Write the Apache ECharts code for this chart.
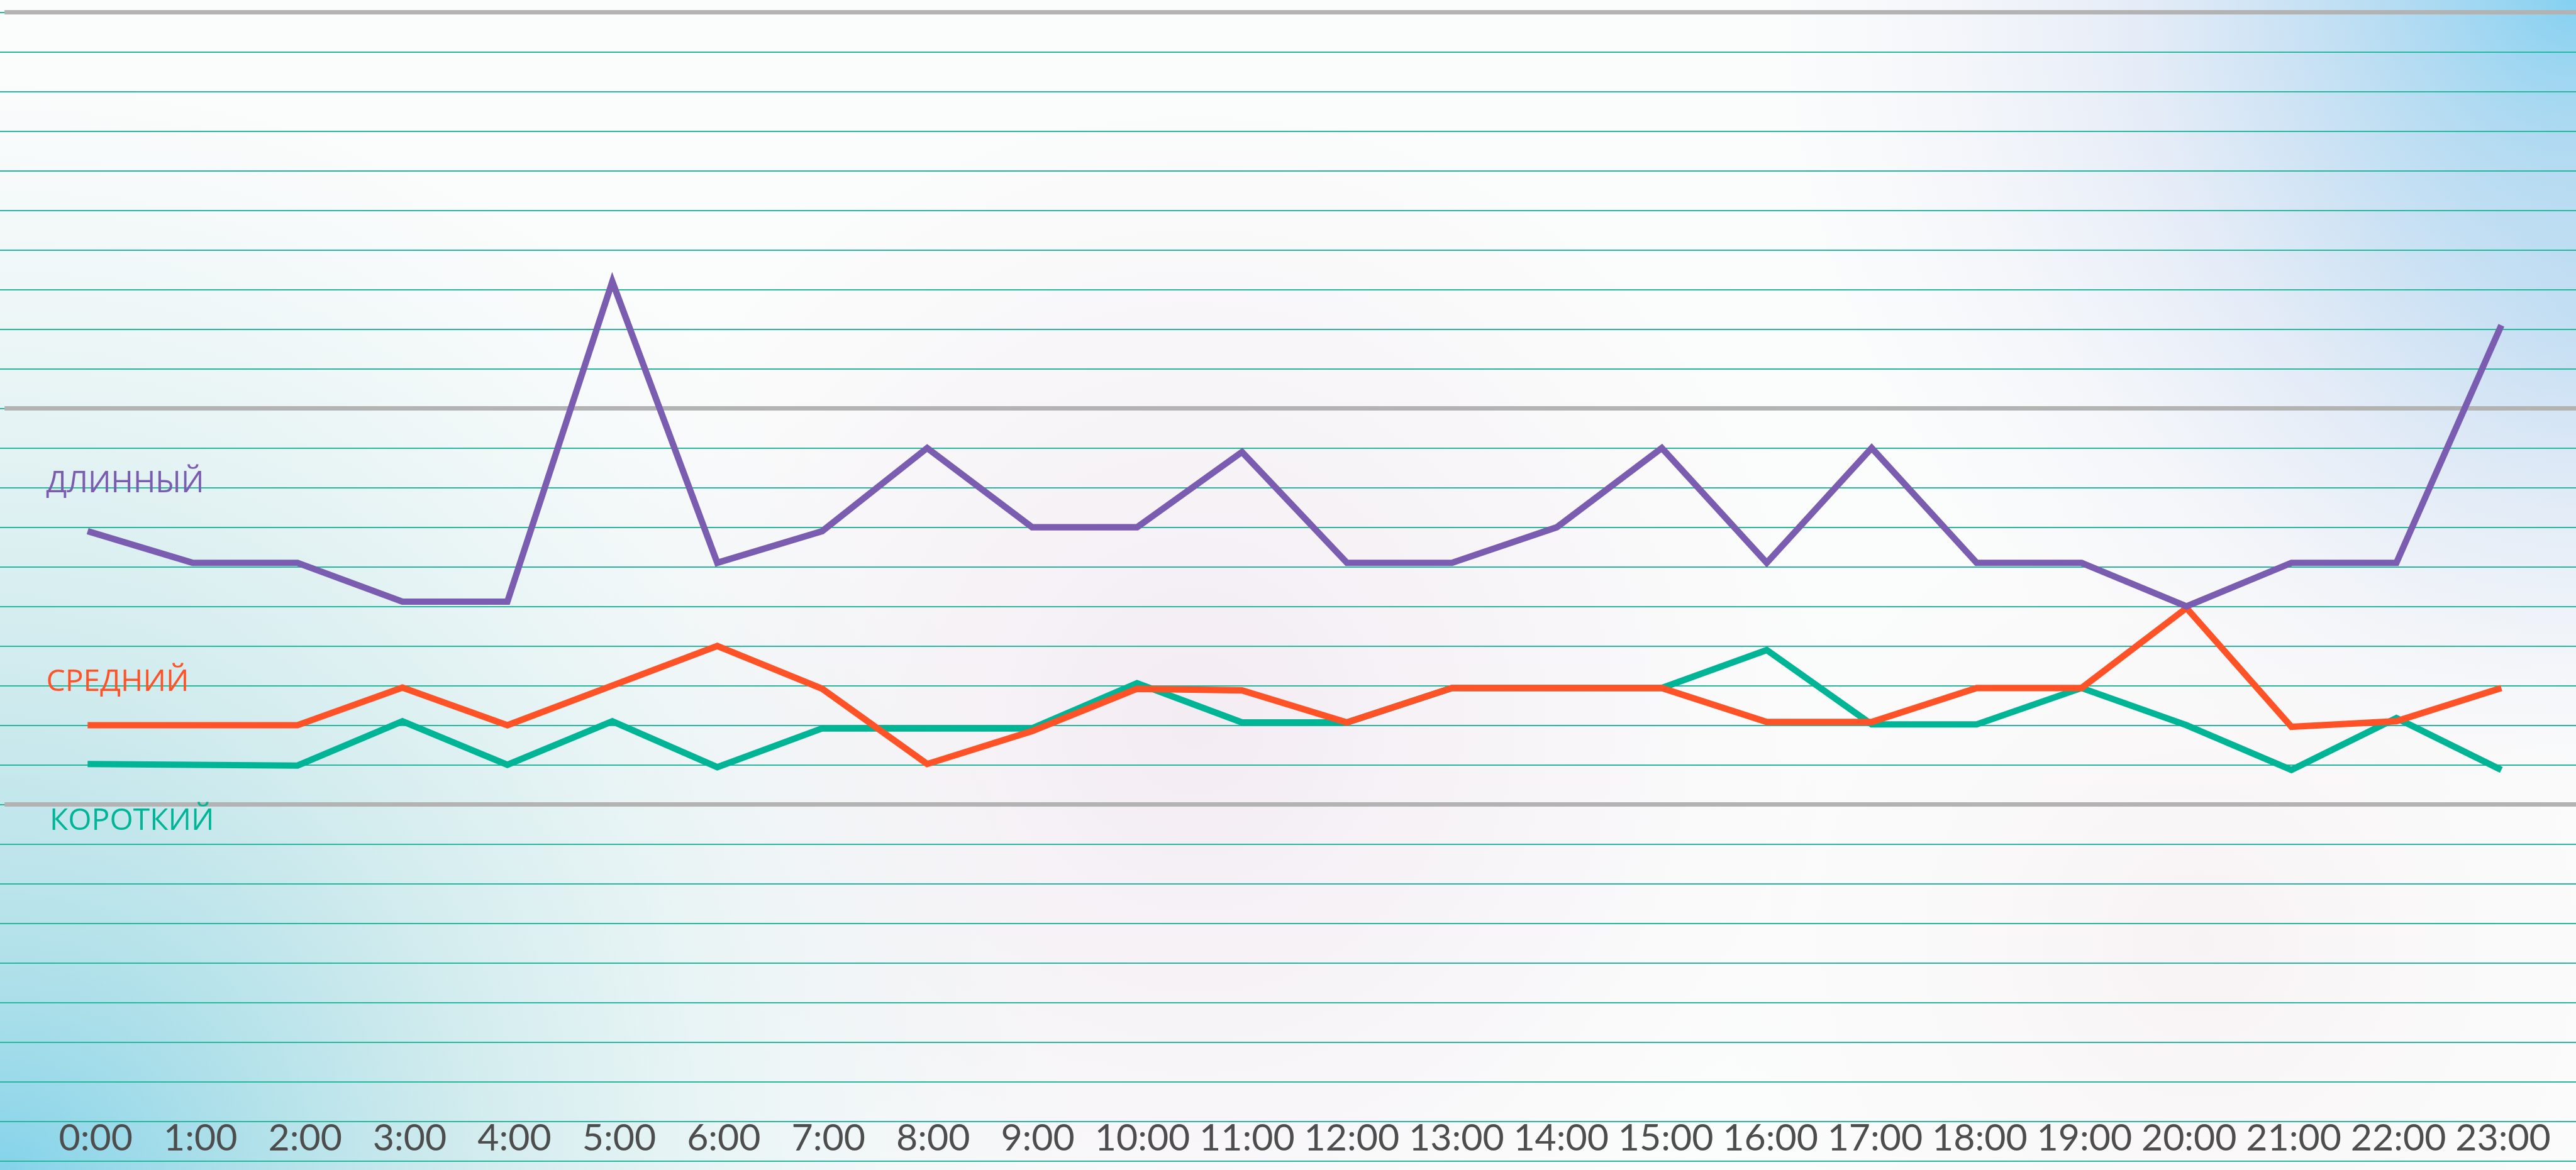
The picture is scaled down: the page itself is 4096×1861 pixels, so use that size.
<!DOCTYPE html>
<html>
<head>
<meta charset="utf-8">
<style>
  html, body { margin: 0; padding: 0; width: 100%; height: 100%; overflow: hidden; background: #fbfcfc; }
  #chart { width: 4096px; height: 1861px; }
</style>
<script src="https://cdn.jsdelivr.net/npm/echarts@6/dist/echarts.min.js"></script>
</head>
<body>
<div id="chart"></div>
<script>
// Hour categories along the bottom
const hours = ['0:00', '1:00', '2:00', '3:00', '4:00', '5:00', '6:00', '7:00', '8:00', '9:00',
  '10:00', '11:00', '12:00', '13:00', '14:00', '15:00', '16:00', '17:00', '18:00', '19:00',
  '20:00', '21:00', '22:00', '23:00'];

// Series values, one per hour
const longValues = [15.9, 15.1, 15.1, 14.12, 14.12, 22.2, 15.1, 15.9, 18.0, 16.0, 16.0, 17.9,
  15.1, 15.1, 16.0, 18.0, 15.1, 18.0, 15.1, 15.1, 14.0, 15.1, 15.1, 21.1];
const midValues = [11.0, 11.0, 11.0, 11.95, 11.0, 12.0, 13.0, 11.92, 10.02, 10.85, 11.92, 11.88,
  11.07, 11.94, 11.94, 11.94, 11.08, 11.08, 11.94, 11.94, 13.96, 10.96, 11.1, 11.94];
const shortValues = [10.02, 10.0, 9.98, 11.1, 10.0, 11.1, 9.94, 10.92, 10.92, 10.92, 12.06, 11.07,
  11.07, 11.94, 11.94, 11.94, 12.9, 11.02, 11.02, 11.94, 11.0, 9.87, 11.18, 9.87];

// Series names
const seriesNames = ['ДЛИННЫЙ', 'СРЕДНИЙ', 'КОРОТКИЙ'];

// Vertical scale: one ruled line per unit, heavier rules every ten
const yMin = 0;
const yMax = 29;
const yStep = 1;
const majorLevels = [9, 19, 29];

const W = 4096, H = 1861;
const PLOT_TOP = 19.7;
const PLOT_BOTTOM = 14.6;

const COLORS = { long: '#7a5db0', mid: '#ff5227', short: '#00b496' };

const chart = echarts.init(document.getElementById('chart'), null, { renderer: 'canvas', width: W, height: H });

function radial(cx, cy, r, stops) {
  return {
    type: 'radial', x: cx, y: cy, r: r, global: true,
    colorStops: stops.map(s => ({ offset: s[0], color: s[1] }))
  };
}

function bgRect(fill) {
  return { type: 'rect', z: -100, silent: true, shape: { x: 0, y: 0, width: W, height: H }, style: { fill: fill } };
}

const hiddenValueY = (idx) => ({
  type: 'value', gridIndex: idx, min: yMin, max: yMax, interval: yStep,
  axisLine: { show: false }, axisTick: { show: false }, axisLabel: { show: false }, splitLine: { show: false }
});

function lineSeries(name, data, color, z) {
  return {
    name: name, type: 'line', xAxisIndex: 2, yAxisIndex: 2, data: data,
    symbol: 'none', z: z, silent: true,
    lineStyle: { color: color, width: 10.2, join: 'miter', miterLimit: 20, cap: 'butt' }
  };
}

const option = {
  animation: false,
  backgroundColor: 'transparent',
  graphic: [
    bgRect('#fbfcfc'),
    // soft lavender/pink haze in the middle
    bgRect(radial(1900, 1150, 1100, [[0, 'rgba(240,230,240,0.75)'], [0.6, 'rgba(243,236,242,0.35)'], [1, 'rgba(250,250,250,0)']])),
    bgRect(radial(3500, 1500, 900, [[0, 'rgba(246,238,240,0.7)'], [1, 'rgba(250,250,250,0)']])),
    // cyan wash from the lower-left corner
    bgRect(radial(0, 1861, 1750, [[0, 'rgba(98,200,232,1)'], [0.2, 'rgba(140,212,228,0.85)'], [0.45, 'rgba(185,226,230,0.6)'], [0.75, 'rgba(215,237,238,0.3)'], [1, 'rgba(230,242,242,0)']])),
    bgRect(radial(0, 1300, 1200, [[0, 'rgba(200,232,236,0.55)'], [1, 'rgba(225,240,240,0)']])),
    // blue wash from the upper-right corner
    bgRect(radial(4096, 0, 1300, [[0, 'rgba(118,205,240,1)'], [0.25, 'rgba(165,212,240,0.8)'], [0.55, 'rgba(205,218,242,0.45)'], [1, 'rgba(235,235,245,0)']])),
    bgRect(radial(4096, 500, 700, [[0, 'rgba(180,215,240,0.5)'], [1, 'rgba(230,235,245,0)']])),
    // series names
    { type: 'text', z: 50, silent: true, x: 73.5, y: 769,
      style: { text: seriesNames[0], fill: COLORS.long, font: '48px "Open Sans", "Noto Sans", sans-serif', verticalAlign: 'middle', align: 'left' } },
    { type: 'text', z: 50, silent: true, x: 73.5, y: 1085,
      style: { text: seriesNames[1], fill: COLORS.mid, font: '48px "Open Sans", "Noto Sans", sans-serif', verticalAlign: 'middle', align: 'left' } },
    { type: 'text', z: 50, silent: true, x: 79, y: 1306,
      style: { text: seriesNames[2], fill: COLORS.short, font: '48px "Open Sans", "Noto Sans", sans-serif', verticalAlign: 'middle', align: 'left' } }
  ],
  grid: [
    // ruled lines, full width
    { left: 0, right: 0, top: PLOT_TOP, bottom: PLOT_BOTTOM },
    // heavier grey rules
    { left: 7.2, right: 0, top: PLOT_TOP, bottom: PLOT_BOTTOM },
    // data lines
    { left: 139.3, right: 118.7, top: PLOT_TOP, bottom: PLOT_BOTTOM },
    // hour labels
    { left: 152.3, right: 116, top: PLOT_TOP, bottom: 50 }
  ],
  xAxis: [
    { type: 'value', gridIndex: 0, min: 0, max: 1, show: false },
    { type: 'value', gridIndex: 1, min: 0, max: 1, show: false },
    { type: 'category', gridIndex: 2, data: hours, boundaryGap: false, show: false },
    { type: 'category', gridIndex: 3, data: hours, boundaryGap: false, position: 'bottom',
      axisLine: { show: false }, axisTick: { show: false }, splitLine: { show: false },
      axisLabel: { show: true, interval: 0, margin: 0, color: '#4d4d4d', fontSize: 59,
        fontFamily: 'Lato, "Open Sans", sans-serif', verticalAlign: 'middle', align: 'center' } }
  ],
  yAxis: [
    { type: 'value', gridIndex: 0, min: yMin, max: yMax, interval: yStep,
      axisLine: { show: false }, axisTick: { show: false }, axisLabel: { show: false },
      splitLine: { show: true, lineStyle: { color: '#27b79e', width: 2 } } },
    hiddenValueY(1),
    hiddenValueY(2),
    { type: 'value', gridIndex: 3, show: false, min: 0, max: 1 }
  ],
  series: [
    {
      name: 'rules', type: 'line', xAxisIndex: 1, yAxisIndex: 1, data: [], silent: true, z: 3,
      markLine: {
        silent: true, symbol: ['none', 'none'], label: { show: false },
        lineStyle: { color: '#b3b3b3', width: 7.2, type: 'solid' },
        emphasis: { disabled: true },
        data: majorLevels.map(v => ({ yAxis: v }))
      }
    },
    lineSeries(seriesNames[2], shortValues, COLORS.short, 10),
    lineSeries(seriesNames[1], midValues, COLORS.mid, 11),
    lineSeries(seriesNames[0], longValues, COLORS.long, 12)
  ]
};

chart.setOption(option);
</script>
</body>
</html>
